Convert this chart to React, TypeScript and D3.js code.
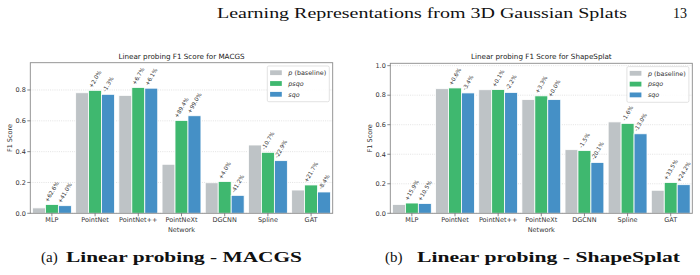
import React from 'react';
import * as d3 from 'd3';

// networks on the x axis
const networks = ['MLP', 'PointNet', 'PointNet++', 'PointNeXt', 'DGCNN', 'Spline', 'GAT'];
const yTicksMacgs = [0, 0.2, 0.4, 0.6, 0.8];
const yTicksShape = [0, 0.2, 0.4, 0.6, 0.8, 1.0];

// MACGS: baseline F1 and relative change (%) of psqo / sqo
const macgsBaseline = [0.035, 0.782, 0.765, 0.318, 0.198, 0.443, 0.151];
const macgsPsqoPct = [62.6, 2.0, 6.7, 89.4, 4.0, -10.7, 21.7];
const macgsSqoPct = [41.0, -1.3, 6.1, 99.0, -41.2, -22.9, -8.4];

// ShapeSplat
const shapeBaseline = [0.06, 0.844, 0.837, 0.77, 0.431, 0.619, 0.156];
const shapePsqoPct = [15.9, 0.6, 0.1, 3.3, -1.5, -1.6, 33.5];
const shapeSqoPct = [10.5, -3.4, -2.2, 0.0, -20.1, -13.0, 24.2];

const COLORS = { p: '#bec3c6', psqo: '#3fb86f', sqo: '#4590c6' };
const FONT = 'DejaVu Sans, sans-serif';
const SERIF = 'Liberation Serif, DejaVu Serif, serif';

// DejaVu Sans advance widths (em) for the percentage labels
const CW: Record<string, number> = {
  '0': 0.636, '1': 0.636, '2': 0.636, '3': 0.636, '4': 0.636, '5': 0.636,
  '6': 0.636, '7': 0.636, '8': 0.636, '9': 0.636, '.': 0.318, '+': 0.838, '-': 0.361, '%': 0.95,
};
const fmtPct = (p: number) => `${p >= 0 ? '+' : ''}${p.toFixed(1)}%`;

type ChartProps = {
  title: string;
  baseline: number[];
  psqoPct: number[];
  sqoPct: number[];
  yMax: number;
  yTicks: number[];
  left: number;
  right: number;
  top: number;
  bottom: number;
  ylabelX: number;
};

function BarChart({ title, baseline, psqoPct, sqoPct, yMax, yTicks, left, right, top, bottom, ylabelX }: ChartProps) {
  const x = d3.scaleLinear().domain([-0.5, networks.length - 0.5]).range([left, right]);
  const y = d3.scaleLinear().domain([0, yMax]).range([bottom, top]);
  const bw = x(0.3) - x(0);

  const series = [
    { key: 'p', offset: -0.3, values: baseline, pct: null as number[] | null },
    { key: 'psqo', offset: 0, values: baseline.map((b, i) => b * (1 + psqoPct[i] / 100)), pct: psqoPct },
    { key: 'sqo', offset: 0.3, values: baseline.map((b, i) => b * (1 + sqoPct[i] / 100)), pct: sqoPct },
  ];

  const fs = 5.6;
  const ang = (60 * Math.PI) / 180;
  const lh = fs * 1.16;

  const lgX = right - 65.4;
  const lgY = top + 3.3;

  return (
    <g>
      <text x={(left + right) / 2} y={top - 4} textAnchor="middle" fontFamily={FONT} fontSize={7.2} fill="#222">
        {title}
      </text>
      {/* grid */}
      {yTicks.map(t => (
        <line key={t} x1={left} x2={right} y1={y(t)} y2={y(t)} stroke="#d0d0d0" strokeWidth={0.6} strokeDasharray="1,1.2" />
      ))}
      {/* bars */}
      {series.map(s =>
        s.values.map((v, i) => (
          <rect key={s.key + i} x={x(i + s.offset) - bw / 2} y={y(v)} width={bw} height={y(0) - y(v)}
            fill={(COLORS as any)[s.key]} stroke="#fff" strokeWidth={0.8} />
        ))
      )}
      {/* relative change labels */}
      {series.filter(s => s.pct).map(s =>
        s.values.map((v, i) => {
          const txt = fmtPct((s.pct as number[])[i]);
          const L = txt.split('').reduce((a, c) => a + (CW[c] || 0.6), 0) * fs;
          const H = L * Math.sin(ang) + lh * Math.cos(ang);
          const cx = x(i + s.offset);
          const cy = y(v) - 1.5 - H / 2;
          return (
            <text key={'l' + s.key + i} x={cx} y={cy} textAnchor="middle" dominantBaseline="central"
              transform={`rotate(-60,${cx},${cy})`} fontFamily={FONT} fontSize={fs} fill="#333">
              {txt}
            </text>
          );
        })
      )}
      {/* frame */}
      <rect x={left} y={top} width={right - left} height={bottom - top} fill="none" stroke="#8a8a8a" strokeWidth={0.9} />
      {/* y axis */}
      {yTicks.map(t => (
        <g key={'yt' + t}>
          <line x1={left - 3} x2={left} y1={y(t)} y2={y(t)} stroke="#555" strokeWidth={0.7} />
          <text x={left - 4.5} y={y(t)} dy="0.35em" textAnchor="end" fontFamily={FONT} fontSize={6.5} fill="#333">
            {t.toFixed(1)}
          </text>
        </g>
      ))}
      <text transform={`translate(${ylabelX},${(top + bottom) / 2}) rotate(-90)`} textAnchor="middle" dy="0.35em"
        fontFamily={FONT} fontSize={6.5} fill="#333">F1 Score</text>
      {/* x axis */}
      {networks.map((n, i) => (
        <g key={n}>
          <line x1={x(i)} x2={x(i)} y1={bottom} y2={bottom + 3} stroke="#555" strokeWidth={0.7} />
          <text x={x(i)} y={bottom + 9} textAnchor="middle" fontFamily={FONT} fontSize={6.5} fill="#333">{n}</text>
        </g>
      ))}
      <text x={(left + right) / 2} y={bottom + 18.5} textAnchor="middle" fontFamily={FONT} fontSize={6.5} fill="#333">Network</text>
      {/* legend */}
      <rect x={lgX} y={lgY} width={62} height={35.7} rx={1.5} fill="#fff" fillOpacity={0.85} stroke="#d5d5d5" strokeWidth={0.7} />
      {series.map((s, k) => {
        const ry = lgY + 6.7 + k * 10.8;
        return (
          <g key={'lg' + s.key}>
            <rect x={lgX + 2.8} y={ry - 2.4} width={11.7} height={4.8} fill={(COLORS as any)[s.key]} />
            <text x={lgX + 21} y={ry} dy="0.35em" fontFamily={FONT} fontSize={6.4} fill="#333">
              {s.key === 'p' ? (<><tspan fontStyle="italic">p</tspan> (baseline)</>) : (<tspan fontStyle="italic">{s.key}</tspan>)}
            </text>
          </g>
        );
      })}
    </g>
  );
}

export default function App() {
  return (
    <div style={{ position: 'absolute', left: 0, top: 0, background: '#fff' }}>
      <svg width={700} height={275} viewBox="0 0 700 275">
        <rect width={700} height={275} fill="#fff" />
        <text x={217} y={17.5} fontFamily={SERIF} fontSize={15} textLength={410} lengthAdjust="spacingAndGlyphs" fill="#111">
          Learning Representations from 3D Gaussian Splats
        </text>
        <text x={673} y={17.5} fontFamily={SERIF} fontSize={15} textLength={14} lengthAdjust="spacingAndGlyphs" fill="#111">13</text>

        <BarChart title="Linear probing F1 Score for MACGS" baseline={macgsBaseline} psqoPct={macgsPsqoPct} sqoPct={macgsSqoPct}
          yMax={0.977} yTicks={yTicksMacgs} left={30.3} right={332.7} top={62.7} bottom={213.3} ylabelX={10} />
        <BarChart title="Linear probing F1 Score for ShapeSplat" baseline={shapeBaseline} psqoPct={shapePsqoPct} sqoPct={shapeSqoPct}
          yMax={1.016} yTicks={yTicksShape} left={390.3} right={692.3} top={63.3} bottom={213.3} ylabelX={370} />

        <text x={41} y={262} fontFamily={SERIF} fontSize={15} fill="#111">(a)</text>
        <text x={66} y={262} fontFamily={SERIF} fontSize={15} fontWeight="bold" textLength={236} lengthAdjust="spacingAndGlyphs" fill="#111">
          Linear probing - MACGS
        </text>
        <text x={385} y={262} fontFamily={SERIF} fontSize={15} fill="#111">(b)</text>
        <text x={417} y={262} fontFamily={SERIF} fontSize={15} fontWeight="bold" textLength={263} lengthAdjust="spacingAndGlyphs" fill="#111">
          Linear probing - ShapeSplat
        </text>
      </svg>
    </div>
  );
}
